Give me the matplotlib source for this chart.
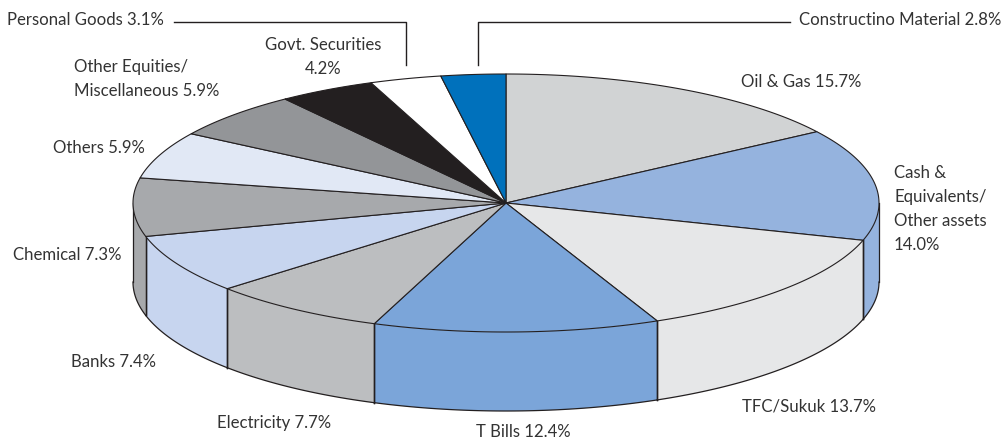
import numpy as np
import matplotlib
matplotlib.use('Agg')
import matplotlib.pyplot as plt

# clockwise from 12 o'clock
sectors = ['Oil & Gas', 'Cash', 'TFC/Sukuk', 'T Bills', 'Electricity', 'Banks', 'Chemical',
           'Others', 'Other Equities', 'Govt. Securities', 'Personal Goods', 'Construction Material']
values = [15.7, 14.0, 13.7, 12.4, 7.7, 7.4, 7.3, 5.9, 5.9, 4.2, 3.1, 2.8]
colors = ['#d1d3d4', '#95b3de', '#e6e7e8', '#7ba5d9', '#bcbec0', '#c7d5ef', '#a7a9ac',
          '#e1e8f5', '#939598', '#231f20', '#ffffff', '#0071bc']

labels = ['Oil & Gas 15.7%', 'Cash &\nEquivalents/\nOther assets\n14.0%', 'TFC/Sukuk 13.7%', 'T Bills 12.4%',
          'Electricity 7.7%', 'Banks 7.4%', 'Chemical 7.3%', 'Others 5.9%',
          'Other Equities/\nMiscellaneous 5.9%', 'Govt. Securities\n4.2%',
          'Personal Goods 3.1%', 'Constructino Material 2.8%']
label_pos = [(741, 82, 'left'), (894, 209, 'left'), (742, 407, 'left'), (476, 432, 'left'),
             (217, 423, 'left'), (71, 362, 'left'), (13, 255, 'left'), (53, 148, 'left'),
             (74, 79, 'left'), (323, 57, 'center'), (7, 20, 'left'), (799, 20, 'left')]

cx, cy, rx, ry, depth = 506, 204, 373, 129, 79
line = '#231f20'

fig = plt.figure(figsize=(10.05, 4.39), dpi=100)
ax = fig.add_axes([0, 0, 1, 1])
ax.set_xlim(0, 1005)
ax.set_ylim(439, 0)
ax.axis('off')
plt.rcParams['font.family'] = ['Lato', 'DejaVu Sans']

def rim(a0, a1, n=80):
    t = np.radians(np.linspace(a0, a1, n))
    return cx + rx * np.sin(t), cy - ry * np.cos(t)

edges = np.concatenate([[0], np.cumsum(values)]) / sum(values) * 360

# side wall, only the front half shows
for i in range(len(values)):
    a0, a1 = max(edges[i], 90), min(edges[i + 1], 270)
    if a1 <= a0:
        continue
    x, y = rim(a0, a1)
    ax.fill(np.r_[x, x[::-1]], np.r_[y, y[::-1] + depth], facecolor=colors[i], edgecolor='none', zorder=1)
    ax.plot(x, y + depth, color=line, lw=0.9, zorder=2)
    for a in (a0, a1):
        if a not in (90, 270):
            xe, ye = rim(a, a, 1)
            ax.plot([xe[0], xe[0]], [ye[0], ye[0] + depth], color=line, lw=1.0, zorder=2)

for xe in (cx - rx, cx + rx):
    ax.plot([xe, xe], [cy, cy + depth], color=line, lw=0.9, zorder=2)

# top face
for i in range(len(values)):
    x, y = rim(edges[i], edges[i + 1])
    ax.fill(np.r_[cx, x], np.r_[cy, y], facecolor=colors[i], edgecolor=line, lw=0.8, joinstyle='round', zorder=3)

for s, (x, y, ha) in zip(labels, label_pos):
    ax.text(x, y, s, ha=ha, va='center', fontsize=12.1, color='#333333', linespacing=1.62)

# leader lines
ax.plot([174, 406, 406], [23, 23, 66], color=line, lw=1.0)
ax.plot([790, 478, 478], [23, 23, 66], color=line, lw=1.0)

fig.savefig('out.png', dpi=100)
